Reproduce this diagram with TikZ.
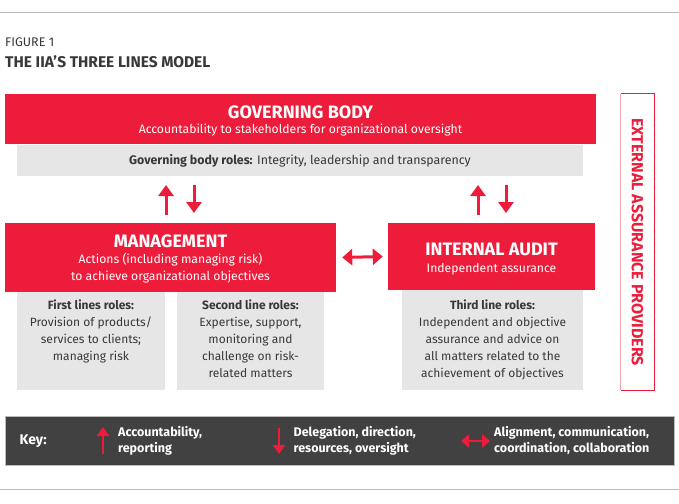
\documentclass[tikz,border=0pt]{standalone}
\usepackage{fontspec}
\setmainfont{Fira Sans}
\usetikzlibrary{arrows.meta}
\definecolor{iiared}{HTML}{ED1C3A}
\definecolor{boxgray}{HTML}{E6E6E6}
\definecolor{keygray}{HTML}{414141}
\definecolor{textgray}{HTML}{383838}
\definecolor{linegray}{HTML}{BBBBBB}
\definecolor{pinkline}{HTML}{F4A3B0}
\tikzset{
  redbox/.style={fill=iiared, draw=none, inner sep=0pt, text=white, align=center},
  graybox/.style={fill=boxgray, draw=none, inner sep=0pt},
  rolestext/.style={text=textgray, align=center, inner sep=0pt, font=\fontsize{12}{17}\selectfont},
  redarrow/.style={draw=iiared, line width=3pt, -{Triangle[width=15pt,length=11pt]}},
  dblarrow/.style={draw=iiared, line width=3pt, {Triangle[width=16pt,length=10pt]}-{Triangle[width=16pt,length=10pt]}},
  keytext/.style={text=white, align=left, anchor=west, inner sep=0pt, font=\fontsize{12.5}{16}\selectfont\bfseries},
  headtext/.style={text=white, inner sep=0pt, anchor=base, font=\fontsize{18}{18}\selectfont\bfseries},
  subtext/.style={text=white, inner sep=0pt, anchor=base, font=\fontsize{12.2}{17}\selectfont},
}
\begin{document}
\begin{tikzpicture}[x=1pt,y=-1pt]
\useasboundingbox (0,0) rectangle (679,503);
% separators
\draw[linegray, line width=1pt] (0,13) -- (679,13);
\draw[linegray, line width=1pt] (0,489) -- (679,489);
% titles
\node[anchor=base west, inner sep=0pt, text=textgray, font=\fontsize{12.5}{14}\selectfont] (fig) at (5,47) {FIGURE 1};
\node[anchor=base west, inner sep=0pt, text=textgray, font=\fontsize{15.5}{16}\selectfont\bfseries] (title) at (5,67) {THE IIA'S THREE LINES MODEL};
% governing body
\node[redbox, minimum width=591pt, minimum height=50pt] (gb) at (300.5,119) {};
\node[headtext] (gbt) at (300.5,118) {GOVERNING BODY};
\node[subtext] (gbs) at (300.5,133) {Accountability to stakeholders for organizational oversight};
\node[graybox, minimum width=566pt, minimum height=31pt] (gbr) at (300,160.5) {};
\node[text=textgray, inner sep=0pt, anchor=base, font=\fontsize{12.4}{17}\selectfont] (gbrt) at (300,164.5) {\textbf{Governing body roles:} Integrity, leadership and transparency};
% management
\node[redbox, minimum width=331pt, minimum height=69pt] (mgmt) at (170.5,257.5) {};
\node[headtext] (mgmtt) at (170.5,247) {MANAGEMENT};
\node[subtext] (mgmts1) at (170.5,263) {Actions (including managing risk)};
\node[subtext] (mgmts2) at (170.5,280) {to achieve organizational objectives};
% internal audit
\node[redbox, minimum width=207pt, minimum height=67pt] (ia) at (491.5,256.5) {};
\node[headtext] (iat) at (491.5,255) {INTERNAL AUDIT};
\node[subtext] (ias) at (491.5,272) {Independent assurance};
% role boxes
\node[graybox, minimum width=148pt, minimum height=98pt] (first) at (91,341) {};
\node[graybox, minimum width=147pt, minimum height=98pt] (second) at (250.5,341) {};
\node[graybox, minimum width=181pt, minimum height=100pt] (third) at (492.5,340) {};
\node[rolestext, anchor=north] (firstt) at (91,300) {\textbf{First lines roles:}\\Provision of products/\\services to clients;\\managing risk};
\node[rolestext, anchor=north] (secondt) at (250.5,300) {\textbf{Second line roles:}\\Expertise, support,\\monitoring and\\challenge on risk-\\related matters};
\node[rolestext, anchor=north] (thirdt) at (492.5,300) {\textbf{Third line roles:}\\Independent and objective\\assurance and advice on\\all matters related to the\\achievement of objectives};
% external assurance providers
\node[draw=none, inner sep=0pt, minimum width=33pt, minimum height=296pt] (ext) at (637.5,242) {};
\draw[iiared, line width=1pt] (ext.north west) -- (ext.north east) -- (ext.south east) -- (ext.south west);
\draw[pinkline, line width=1pt] (ext.north west) -- (ext.south west);
\node[rotate=-90, text=iiared, inner sep=0pt, font=\fontsize{16}{18}\selectfont\bfseries] (extt) at (ext.center) {EXTERNAL ASSURANCE PROVIDERS};
% arrows between governing body and lines
\coordinate (a1s) at (166,215); \coordinate (a1e) at (166,185);
\coordinate (a2s) at (194,185); \coordinate (a2e) at (194,213);
\coordinate (a3s) at (478,215); \coordinate (a3e) at (478,185);
\coordinate (a4s) at (506,185); \coordinate (a4e) at (506,213);
\draw[redarrow] (a1s) -- (a1e);
\draw[redarrow] (a2s) -- (a2e);
\draw[redarrow] (a3s) -- (a3e);
\draw[redarrow] (a4s) -- (a4e);
\draw[dblarrow] ([xshift=6pt]mgmt.east) -- ([xshift=-5pt]ia.west);
% key
\node[fill=keygray, draw=linegray, line width=0.6pt, inner sep=0pt, minimum width=669pt, minimum height=49pt] (key) at (339.5,440.5) {};
\node[anchor=west, inner sep=0pt, text=white, font=\fontsize{14}{16}\selectfont\bfseries] (keyt) at (19.5,441) {Key:};
\coordinate (k1s) at (103,454); \coordinate (k1e) at (103,427);
\draw[redarrow, line width=2.6pt, -{Triangle[width=12pt,length=9pt]}] (k1s) -- (k1e);
\node[keytext] (k1t) at (118,441) {Accountability,\\reporting};
\coordinate (k2s) at (279,428); \coordinate (k2e) at (279,454);
\draw[redarrow, line width=2.6pt, -{Triangle[width=12pt,length=9pt]}] (k2s) -- (k2e);
\node[keytext] (k2t) at (293.5,441) {Delegation, direction,\\resources, oversight};
\coordinate (k3s) at (461,441); \coordinate (k3e) at (490,441);
\draw[dblarrow, line width=2.6pt, {Triangle[width=13pt,length=8pt]}-{Triangle[width=13pt,length=8pt]}] (k3s) -- (k3e);
\node[keytext] (k3t) at (494,441) {Alignment, communication,\\coordination, collaboration};
\end{tikzpicture}
\end{document}
